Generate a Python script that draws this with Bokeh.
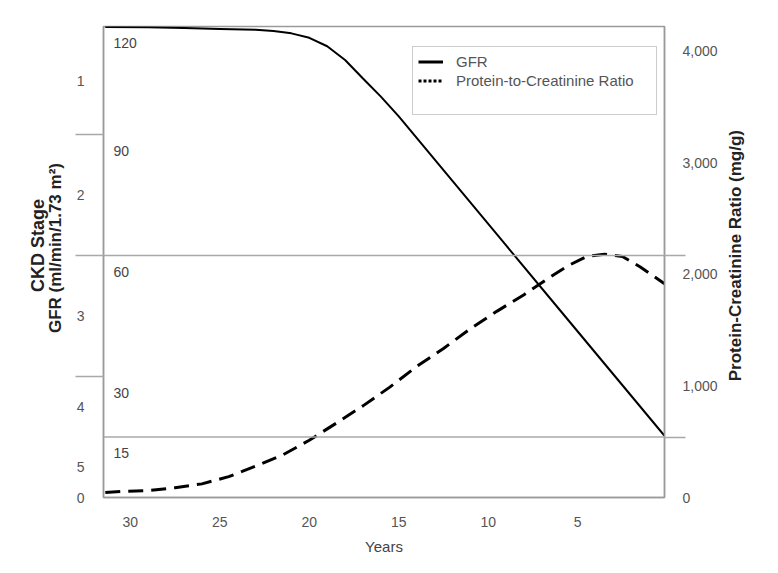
import math
from bokeh.plotting import figure
from bokeh.layouts import row
from bokeh.models import (Range1d, LinearAxis, FixedTicker, Span, Label, Legend,
                          LegendItem, NumeralTickFormatter)
from bokeh.embed import file_html
from bokeh.resources import INLINE

# ---------------- data ----------------
gfr_years = [31.4, 29, 27, 25, 23, 22, 21, 20, 19, 18, 17, 16, 15, 12, 9, 6, 3, 0.15]
gfr_values = [116.7, 116.6, 116.4, 116.2, 116.0, 115.7, 115.1, 114.0, 111.9, 108.5,
              103.9, 99.4, 94.5, 78.5, 62.5, 46.5, 30.5, 15.3]

pcr_years = [31.4, 30.5, 29, 27.5, 26, 24.5, 23, 21.5, 20, 18.5, 17, 15.5, 14, 12.5,
             11, 9.5, 8, 6.5, 5.5, 4.5, 3.5, 2.5, 1.5, 0.15]
pcr_values = [45, 55, 62, 88, 122, 187, 281, 380, 513, 665, 821, 989, 1174, 1335,
              1512, 1670, 1817, 1979, 2080, 2160, 2180, 2160, 2065, 1915]

year_ticks = [30, 25, 20, 15, 10, 5]
pcr_ticks = [0, 1000, 2000, 3000, 4000]
gfr_thresholds = [90, 60, 30, 15]          # stage boundaries
stage_lines = [60, 15]                      # boundaries drawn across the plot
stage_names = ["1", "2", "3", "4", "5"]
gfr_label_text = ["120", "90", "60", "30", "15"]
gfr_label_values = [120, 90, 60, 30, 15]

X0, X1 = 31.5, 0.15
GFR_MAX = 116.8
PCR_MAX = 4220

FONT = "Liberation Sans"
GRAY_LINE = "#a8a8a8"
AXIS_GRAY = "#9a9a9a"
TXT = "#555555"
TITLE = "#222222"
H = 557
LEFT_W, MAIN_W, RIGHT_W = 66, 654, 42

bounds = [GFR_MAX] + gfr_thresholds + [0]
stage_mid = [(bounds[i] + bounds[i + 1]) / 2 for i in range(len(stage_names))]

p = figure(width=MAIN_W, height=H, x_range=Range1d(X0, X1), y_range=Range1d(0, GFR_MAX),
           output_backend="svg", toolbar_location=None,
           min_border_left=37, min_border_right=55, min_border_top=26, min_border_bottom=58)
p.extra_y_ranges = {"pcr": Range1d(0, PCR_MAX)}
p.xgrid.visible = False
p.ygrid.visible = False
p.outline_line_color = AXIS_GRAY
p.outline_line_width = 1.5
p.background_fill_color = "white"
p.border_fill_color = "white"

# x axis
xa = p.xaxis[0]
xa.ticker = FixedTicker(ticks=year_ticks)
xa.major_tick_out = 0
xa.major_tick_in = 0
xa.minor_tick_out = 0
xa.minor_tick_in = 0
xa.axis_line_color = AXIS_GRAY
xa.axis_line_width = 1.5
xa.major_label_standoff = 19
xa.major_label_text_font = FONT
xa.major_label_text_font_size = "14px"
xa.major_label_text_color = TXT
xa.axis_label = "Years"
xa.axis_label_standoff = 8
xa.axis_label_text_font = FONT
xa.axis_label_text_font_size = "15px"
xa.axis_label_text_font_style = "normal"
xa.axis_label_text_color = "#444444"

# left axis (CKD stage)
ya = p.yaxis[0]
ya.ticker = FixedTicker(ticks=stage_mid + [0], minor_ticks=gfr_thresholds[:3])
overrides = {stage_mid[i]: stage_names[i] for i in range(len(stage_names))}
overrides[0] = "0"
ya.major_label_overrides = overrides
ya.major_tick_out = 0
ya.major_tick_in = 0
ya.minor_tick_out = 28
ya.minor_tick_in = 0
ya.minor_tick_line_color = GRAY_LINE
ya.minor_tick_line_width = 1.5
ya.axis_line_color = AXIS_GRAY
ya.axis_line_width = 1.5
ya.major_label_standoff = -9
ya.major_label_text_font = FONT
ya.major_label_text_font_size = "14px"
ya.major_label_text_color = TXT

# right axis (protein-creatinine ratio)
ra = LinearAxis(y_range_name="pcr",
                ticker=FixedTicker(ticks=pcr_ticks,
                                   minor_ticks=[v / GFR_MAX * PCR_MAX for v in stage_lines]),
                formatter=NumeralTickFormatter(format="0,0"))
ra.major_tick_out = 0
ra.major_tick_in = 0
ra.minor_tick_out = 21
ra.minor_tick_in = 0
ra.minor_tick_line_color = GRAY_LINE
ra.minor_tick_line_width = 1.5
ra.axis_line_color = AXIS_GRAY
ra.axis_line_width = 1.5
ra.major_label_standoff = -3
ra.major_label_text_font = FONT
ra.major_label_text_font_size = "14px"
ra.major_label_text_color = TXT
p.add_layout(ra, "right")

# stage boundary lines
for v in stage_lines:
    p.add_layout(Span(location=v, dimension="width", line_color=GRAY_LINE, line_width=1.5))

# GFR value labels inside the plot
for t, v in zip(gfr_label_text, gfr_label_values):
    p.add_layout(Label(x=X0, y=min(v, GFR_MAX), x_offset=10, y_offset=-16, text=t,
                       text_font=FONT, text_font_size="14px", text_color="#444444",
                       text_align="left", text_baseline="middle"))

# series
r_gfr = p.line(gfr_years, gfr_values, line_color="black", line_width=2)
r_pcr = p.line(pcr_years, pcr_values, y_range_name="pcr", line_color="black",
               line_width=3, line_dash="15 8")

# legend samples (hidden renderers, drawn only as legend glyphs)
s_gfr = p.line(gfr_years, gfr_values, line_color="black", line_width=3, visible=False)
s_pcr = p.line(pcr_years, pcr_values, y_range_name="pcr", line_color="black",
               line_width=3, line_dash="3 2", visible=False)
s_blank = p.line(gfr_years, gfr_values, line_alpha=0, visible=False)
legend = Legend(items=[LegendItem(label="GFR", renderers=[s_gfr]),
                       LegendItem(label="Protein-to-Creatinine Ratio", renderers=[s_pcr]),
                       LegendItem(label=" ", renderers=[s_blank])],
                location=(309, 382), padding=5, spacing=0, margin=0,
                glyph_width=25, glyph_height=19, label_height=19, label_standoff=13,
                label_width=195, label_text_font=FONT, label_text_font_size="15px",
                label_text_color=TXT, border_line_color="#999999", border_line_width=1.5,
                background_fill_color="white", background_fill_alpha=1,
                inactive_fill_alpha=0, click_policy="none")
p.add_layout(legend)


# ---------------- side panels holding the rotated axis titles ----------------
def side_panel(w):
    f = figure(width=w, height=H, x_range=Range1d(0, w), y_range=Range1d(0, H),
               output_backend="svg", toolbar_location=None,
               x_axis_location=None, y_axis_location=None,
               min_border_left=0, min_border_right=0, min_border_top=0, min_border_bottom=0)
    f.xgrid.visible = False
    f.ygrid.visible = False
    f.outline_line_color = None
    f.background_fill_color = "white"
    f.border_fill_color = "white"
    return f


left = side_panel(LEFT_W)
left.add_layout(Label(x=37, y=H - 259, angle=math.pi / 2, text="CKD Stage",
                      text_font=FONT, text_font_size="18px", text_font_style="bold",
                      text_color=TITLE, text_align="center", text_baseline="middle"))
left.add_layout(Label(x=55, y=H - 262, angle=math.pi / 2, text="GFR (ml/min/1.73 m\u00b2)",
                      text_font=FONT, text_font_size="17px", text_font_style="bold",
                      text_color=TITLE, text_align="center", text_baseline="middle"))

right = side_panel(RIGHT_W)
right.add_layout(Label(x=15, y=H - 271, angle=math.pi / 2,
                       text="Protein-Creatinine Ratio (mg/g)",
                       text_font=FONT, text_font_size="17px", text_font_style="bold",
                       text_color=TITLE, text_align="center", text_baseline="middle"))

layout = row(left, p, right, spacing=0)
open("out.html", "w").write(file_html(layout, INLINE))
